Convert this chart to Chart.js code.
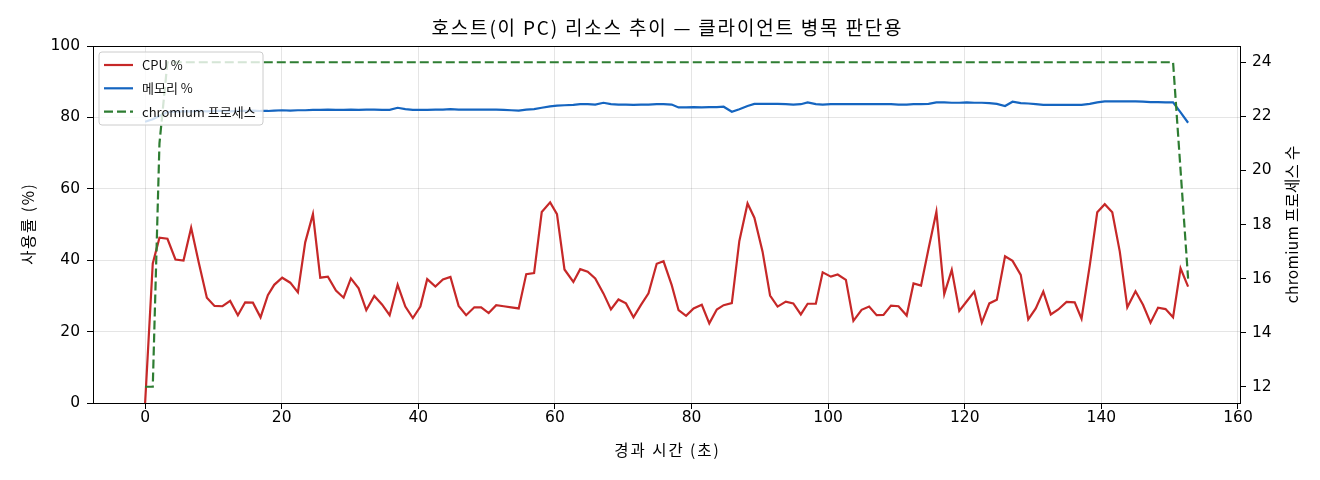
<!DOCTYPE html>
<html>
<head>
<meta charset="utf-8">
<script src="https://cdn.jsdelivr.net/npm/chart.js@4.4.1/dist/chart.umd.min.js"></script>
<style>
html,body{margin:0;padding:0;background:#fff;}
#wrap{width:1320px;height:480px;position:relative;}
</style>
</head>
<body>
<div id="wrap"><canvas id="c"></canvas></div>
<script>
const titleText = '호스트(이 PC) 리소스 추이 — 클라이언트 병목 판단용';
const xTitle = '경과 시간 (초)';
const yTitle = '사용률 (%)';
const y1Title = 'chromium 프로세스 수';
const seriesLabels = ['CPU %', '메모리 %', 'chromium 프로세스'];
const xTicks = [0, 20, 40, 60, 80, 100, 120, 140, 160];
const yTicks = [0, 20, 40, 60, 80, 100];
const y1Ticks = [12, 14, 16, 18, 20, 22, 24];

const times = [
 0, 1.12, 2.10, 3.27, 4.44, 5.62, 6.74, 7.86, 9.04, 10.16,
 11.33, 12.45, 13.58, 14.65, 15.78, 16.90, 17.97, 18.90, 20.07, 21.25,
 22.37, 23.44, 24.57, 25.64, 26.76, 27.94, 29.06, 30.13, 31.26, 32.38,
 33.55, 34.68, 35.80, 36.97, 38.10, 39.20, 40.30, 41.30, 42.50, 43.60,
 44.70, 45.90, 47.00, 48.20, 49.20, 50.30, 51.40, 52.50, 53.60, 54.70,
 55.80, 56.95, 58.07, 59.30, 60.30, 61.40, 62.70, 63.70, 64.80, 65.90,
 67.10, 68.20, 69.30, 70.40, 71.50, 72.60, 73.70, 74.90, 75.90, 77.10,
 78.10, 79.20, 80.30, 81.50, 82.60, 83.70, 84.70, 85.90, 87.00, 88.20,
 89.20, 90.40, 91.50, 92.60, 93.80, 94.90, 96.00, 97.00, 98.20, 99.20,
 100.40, 101.40, 102.60, 103.70, 104.90, 106.00, 107.10, 108.10, 109.20, 110.30,
 111.50, 112.50, 113.60, 114.70, 115.85, 117.00, 118.10, 119.20, 120.30, 121.40,
 122.50, 123.60, 124.70, 125.90, 127.00, 128.20, 129.30, 130.40, 131.50, 132.60,
 133.70, 134.90, 136.10, 137.10, 138.30, 139.40, 140.50, 141.60, 142.70, 143.80,
 145.00, 146.10, 147.20, 148.30, 149.40, 150.50, 151.60, 152.70
];

const cpuPct = [
 0, 39.1, 46.3, 46.0, 40.2, 39.9, 49.1, 39.3, 29.5, 27.2,
 27.1, 28.6, 24.6, 28.2, 28.1, 24.0, 30.2, 33.1, 35.1, 33.7,
 31.0, 45.0, 52.9, 35.1, 35.4, 31.5, 29.5, 34.9, 32.1, 26.0,
 30.0, 27.6, 24.6, 33.1, 27.0, 23.8, 27.0, 34.7, 32.6, 34.6,
 35.3, 27.2, 24.6, 26.8, 26.8, 25.2, 27.4, 27.1, 26.8, 26.5,
 36.1, 36.4, 53.5, 56.2, 52.9, 37.4, 33.9, 37.5, 36.8, 34.9,
 30.7, 26.2, 29.0, 27.9, 24.0, 27.5, 30.7, 39.0, 39.7, 33.0,
 26.0, 24.4, 26.5, 27.5, 22.3, 26.2, 27.4, 28.0, 45.4, 55.9,
 51.9, 42.4, 30.1, 27.0, 28.4, 27.9, 24.8, 27.8, 27.8, 36.6,
 35.4, 36.0, 34.5, 23.0, 26.1, 27.0, 24.6, 24.7, 27.3, 27.1,
 24.5, 33.5, 32.9, 43.2, 53.6, 30.5, 37.3, 25.8, 28.5, 31.2,
 22.5, 27.9, 28.9, 41.1, 39.8, 35.9, 23.4, 26.5, 31.2, 24.8,
 26.2, 28.3, 28.2, 23.6, 38.5, 53.4, 55.7, 53.4, 42.4, 26.8,
 31.3, 27.5, 22.5, 26.7, 26.3, 24.0, 37.7, 32.6
];

const memPct = [
 78.8, 79.5, 80.4, 81.5, 81.6, 81.7, 81.7, 81.8, 81.7, 81.8,
 81.8, 81.7, 81.8, 81.8, 81.9, 81.8, 81.8, 81.9, 82.0, 81.9,
 82.0, 82.0, 82.1, 82.1, 82.2, 82.1, 82.1, 82.2, 82.1, 82.2,
 82.2, 82.1, 82.1, 82.7, 82.3, 82.1, 82.1, 82.1, 82.2, 82.2,
 82.3, 82.2, 82.2, 82.2, 82.2, 82.2, 82.2, 82.1, 82.0, 81.9,
 82.2, 82.3, 82.7, 83.1, 83.3, 83.4, 83.5, 83.7, 83.7, 83.6,
 84.1, 83.7, 83.6, 83.6, 83.5, 83.6, 83.6, 83.7, 83.7, 83.6,
 82.8, 82.8, 82.9, 82.8, 82.9, 82.9, 83.0, 81.6, 82.3, 83.2,
 83.8, 83.8, 83.8, 83.8, 83.7, 83.6, 83.7, 84.2, 83.7, 83.6,
 83.7, 83.7, 83.7, 83.7, 83.7, 83.7, 83.7, 83.7, 83.7, 83.6,
 83.6, 83.7, 83.7, 83.8, 84.2, 84.2, 84.1, 84.1, 84.2, 84.1,
 84.1, 84.0, 83.8, 83.2, 84.4, 84.0, 83.9, 83.7, 83.5, 83.5,
 83.5, 83.5, 83.5, 83.5, 83.8, 84.2, 84.5, 84.5, 84.5, 84.5,
 84.5, 84.4, 84.3, 84.3, 84.2, 84.2, 81.4, 78.5
];

const chromiumProcs = [
 12, 12, 21,
 24, 24, 24, 24, 24, 24, 24, 24, 24, 24, 24, 24, 24, 24, 24, 24, 24, 24, 24,
 24, 24, 24, 24, 24, 24, 24, 24, 24, 24, 24, 24, 24, 24, 24, 24, 24, 24, 24,
 24, 24, 24, 24, 24, 24, 24, 24, 24, 24, 24, 24, 24, 24, 24, 24, 24, 24, 24,
 24, 24, 24, 24, 24, 24, 24, 24, 24, 24, 24, 24, 24, 24, 24, 24, 24, 24, 24,
 24, 24, 24, 24, 24, 24, 24, 24, 24, 24, 24, 24, 24, 24, 24, 24, 24, 24, 24,
 24, 24, 24, 24, 24, 24, 24, 24, 24, 24, 24, 24, 24, 24, 24, 24, 24, 24, 24,
 24, 24, 24, 24, 24, 24, 24, 24, 24, 24, 24, 24, 24, 24, 24, 24, 24, 24, 24,
 20, 16
];

const KFONT = '"Noto Sans CJK KR", "Noto Sans", sans-serif';
const NFONT = '"DejaVu Sans", "Noto Sans CJK KR", sans-serif';
const colors = ['#c62828', '#1565c0', '#2e7d32'];
const dashes = [[], [], [9, 4]];
const LW = 2.2;

const toXY = (ys) => times.map((t, i) => ({x: t, y: ys[i]}));

function spacedText(ctx, text, x, y, font, spacing, rot) {
  ctx.save();
  ctx.font = font;
  try { ctx.letterSpacing = spacing + 'px'; } catch (e) {}
  ctx.fillStyle = '#000';
  ctx.textAlign = 'center';
  ctx.textBaseline = 'middle';
  ctx.translate(x, y);
  if (rot) ctx.rotate(rot);
  ctx.fillText(text, spacing / 2, 0);
  ctx.restore();
}

const chromeFrame = {
  id: 'chromeFrame',
  afterDraw(chart) {
    const {ctx, chartArea: a} = chart;
    ctx.save();
    ctx.strokeStyle = '#000';
    ctx.lineWidth = 1;
    ctx.strokeRect(Math.round(a.left) + 0.5, Math.round(a.top) + 0.5, Math.round(a.right - a.left), Math.round(a.bottom - a.top));
    ctx.restore();

    const cx = (a.left + a.right) / 2, cy = (a.top + a.bottom) / 2;
    spacedText(ctx, titleText, cx, 28, '19px ' + KFONT, 1.8, 0);
    spacedText(ctx, xTitle, cx, 450, '15.5px ' + KFONT, 2, 0);
    spacedText(ctx, yTitle, 28, cy, '15.5px ' + KFONT, 1.6, -Math.PI / 2);
    spacedText(ctx, y1Title, 1292, cy, '15.5px ' + KFONT, 0.3, -Math.PI / 2);

    // legend
    ctx.save();
    const bx = a.left + 6, by = a.top + 6, bw = 164, bh = 73, r = 3;
    ctx.beginPath();
    ctx.moveTo(bx + r, by);
    ctx.arcTo(bx + bw, by, bx + bw, by + bh, r);
    ctx.arcTo(bx + bw, by + bh, bx, by + bh, r);
    ctx.arcTo(bx, by + bh, bx, by, r);
    ctx.arcTo(bx, by, bx + bw, by, r);
    ctx.closePath();
    ctx.fillStyle = 'rgba(255,255,255,0.8)';
    ctx.fill();
    ctx.strokeStyle = '#cccccc';
    ctx.lineWidth = 1;
    ctx.stroke();
    ctx.font = '13px ' + KFONT;
    ctx.textAlign = 'left';
    ctx.textBaseline = 'middle';
    for (let i = 0; i < seriesLabels.length; i++) {
      const yy = by + 13 + i * 23.3;
      ctx.beginPath();
      ctx.setLineDash(dashes[i]);
      ctx.strokeStyle = colors[i];
      ctx.lineWidth = LW;
      ctx.moveTo(bx + 5, yy);
      ctx.lineTo(bx + 34, yy);
      ctx.stroke();
      ctx.setLineDash([]);
      ctx.fillStyle = '#111';
      ctx.fillText(seriesLabels[i], bx + 43, yy);
    }
    ctx.restore();
  }
};

new Chart(document.getElementById('c'), {
  type: 'line',
  data: {
    datasets: [
      {label: seriesLabels[0], data: toXY(cpuPct), borderColor: colors[0], borderWidth: LW, pointRadius: 0, tension: 0, yAxisID: 'y', order: 2},
      {label: seriesLabels[1], data: toXY(memPct), borderColor: colors[1], borderWidth: LW, pointRadius: 0, tension: 0, yAxisID: 'y', order: 1},
      {label: seriesLabels[2], data: toXY(chromiumProcs), borderColor: colors[2], borderWidth: LW, borderDash: dashes[2], pointRadius: 0, tension: 0, yAxisID: 'y1', order: 0}
    ]
  },
  options: {
    responsive: true,
    maintainAspectRatio: false,
    animation: false,
    devicePixelRatio: 1,
    layout: {padding: {top: 46, left: 0, right: 0, bottom: 0}},
    plugins: {
      legend: {display: false},
      tooltip: {enabled: false},
      title: {display: false}
    },
    scales: {
      x: {
        type: 'linear',
        min: -7.63,
        max: 160.3,
        afterBuildTicks: (s) => { s.ticks = xTicks.map(v => ({value: v})); },
        afterFit: (s) => { s.height = 77; },
        grid: {color: 'rgba(0,0,0,0.1)', tickColor: '#000', tickLength: 6, lineWidth: 1},
        border: {display: true, color: '#000', width: 1},
        ticks: {color: '#000', font: {family: NFONT, size: 15.5}, padding: 0, maxRotation: 0},
        title: {display: false}
      },
      y: {
        type: 'linear',
        position: 'left',
        min: 0,
        max: 100,
        afterBuildTicks: (s) => { s.ticks = yTicks.map(v => ({value: v})); },
        afterFit: (s) => { s.width = 93; },
        grid: {color: 'rgba(0,0,0,0.1)', tickColor: '#000', tickLength: 6, lineWidth: 1},
        border: {display: true, color: '#000', width: 1},
        ticks: {color: '#000', font: {family: NFONT, size: 15.5}, padding: 7},
        title: {display: false}
      },
      y1: {
        type: 'linear',
        position: 'right',
        min: 11.4,
        max: 24.6,
        afterBuildTicks: (s) => { s.ticks = y1Ticks.map(v => ({value: v})); },
        afterFit: (s) => { s.width = 80; },
        grid: {drawOnChartArea: false, tickColor: '#000', tickLength: 6},
        border: {display: true, color: '#000', width: 1},
        ticks: {color: '#000', font: {family: NFONT, size: 15.5}, padding: 6},
        title: {display: false}
      }
    }
  },
  plugins: [chromeFrame]
});
</script>
</body>
</html>
